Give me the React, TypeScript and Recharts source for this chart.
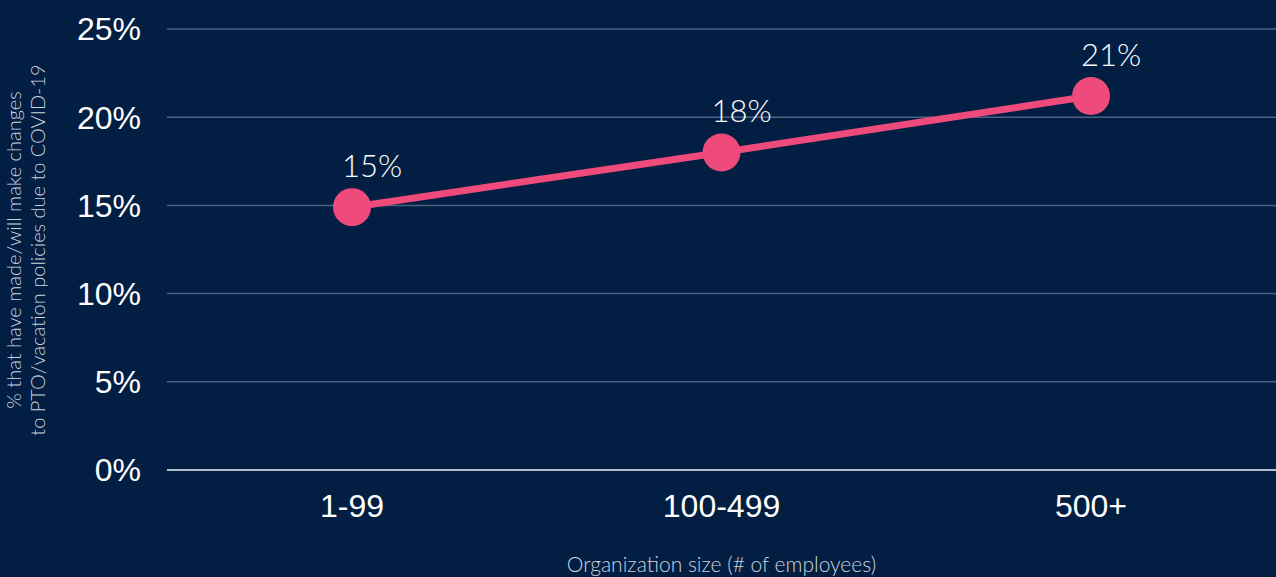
import React from 'react';
import {
  LineChart, Line, XAxis, YAxis, CartesianGrid, LabelList, ReferenceLine,
} from 'recharts';

const sizes = ['1-99', '100-499', '500+'];
const shares = [14.9, 18.0, 21.2];
const yTicks = [0, 5, 10, 15, 20, 25];

const data = sizes.map((size, i) => ({ size, share: shares[i] }));

const BG = '#021e42';
const PINK = '#ee4a7b';
const THIN = "Lato, 'Open Sans', sans-serif";
const SANS = "'Liberation Sans', Arial, sans-serif";

function YTitle() {
  const cy = 250;
  return (
    <text
      transform={`translate(0, ${cy}) rotate(-90)`}
      textAnchor="middle"
      fill="#ccd3de"
      fontFamily={THIN}
      fontWeight={300}
      fontSize={20}
    >
      <tspan x={0} y={21}>% that have made/will make changes</tspan>
      <tspan x={0} y={45}>to PTO/vacation policies due to COVID-19</tspan>
    </text>
  );
}

// value label sits a bit right of the dot, like the original
function ValueLabel({ x, y, value }: any) {
  return (
    <text
      x={x + 20}
      y={y - 30}
      textAnchor="middle"
      fill="#ffffff"
      fontSize={31}
      fontFamily={THIN}
      fontWeight={300}
    >
      {`${Math.round(value)}%`}
    </text>
  );
}

export default function App() {
  return (
    <div style={{ position: 'absolute', left: 0, top: 0, width: 1276, height: 577, background: BG }}>
      <LineChart
        width={1276}
        height={577}
        data={data}
        margin={{ top: 29, right: 0, bottom: 0, left: 0 }}
      >
        <CartesianGrid vertical={false} stroke="#4b6283" strokeWidth={1.5} />
        <XAxis
          dataKey="size"
          height={107}
          padding={{ left: 185, right: 185 }}
          axisLine={false}
          tickLine={false}
          tickMargin={18}
          tick={{ fill: '#ffffff', fontSize: 32, fontFamily: SANS }}
          label={{
            value: 'Organization size (# of employees)',
            position: 'insideBottom',
            offset: 5,
            fill: '#ccd3de',
            fontSize: 21,
            fontFamily: THIN,
            fontWeight: 300,
          }}
        />
        <YAxis
          width={167}
          domain={[0, 25]}
          ticks={yTicks}
          axisLine={false}
          tickLine={false}
          tickMargin={20}
          tickFormatter={(v: number) => `${v}%`}
          tick={{ fill: '#ffffff', fontSize: 32, fontFamily: SANS }}
          label={<YTitle />}
        />
        <ReferenceLine y={0} stroke="#b4bdcb" strokeWidth={2} />
        <Line
          type="linear"
          dataKey="share"
          stroke={PINK}
          strokeWidth={7}
          dot={{ r: 19, fill: PINK, stroke: PINK, strokeWidth: 0 }}
          activeDot={false}
          isAnimationActive={false}
        >
          <LabelList dataKey="share" content={<ValueLabel />} />
        </Line>
      </LineChart>
    </div>
  );
}
